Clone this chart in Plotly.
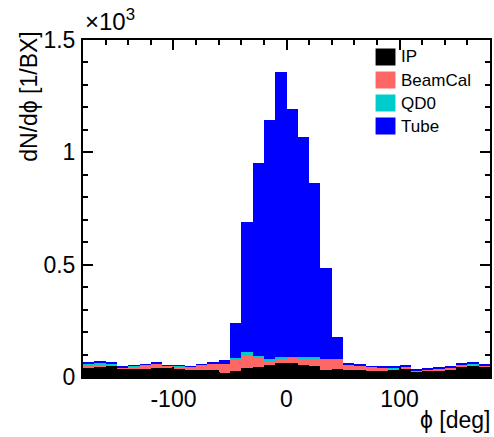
import numpy as np
import plotly.graph_objects as go

# phi binning: 36 bins of 10 degrees from -180 to 180
bin_edges = list(range(-180, 181, 10))
bin_centers = [(a + b) / 2 for a, b in zip(bin_edges[:-1], bin_edges[1:])]

# per-source hit counts per bin [1/BX]
ip = [43, 45, 50, 37, 37, 37, 40, 40, 34, 30, 30, 30,
      19, 27, 42, 46, 54, 61, 61, 54, 47, 30, 35, 30,
      30, 27, 25, 30, 40, 25, 25, 30, 30, 45, 49, 45]
beamcal = [6, 7, 3, 5, 11, 18, 22, 9, 14, 15, 24, 28,
           39, 53, 56, 37, 19, 22, 27, 30, 34, 47, 42, 22,
           22, 18, 17, 10, 7, 5, 9, 7, 12, 7, 6, 4]
qd0 = [13, 12, 3, 1, 1, 0, 0, 1, 1, 0, 0, 1,
       1, 6, 12, 11, 6, 5, 3, 6, 8, 3, 2, 1,
       1, 0, 1, 1, 0, 1, 1, 1, 1, 4, 5, 3]
tube = [5, 7, 9, 3, 3, 1, 1, 2, 3, 2, 2, 8,
        18, 154, 578, 858, 1064, 1270, 1104, 980, 773, 407, 100, 9,
        3, 3, 3, 4, 3, 3, 5, 4, 2, 4, 7, 8]

series_names = ["IP", "BeamCal", "QD0", "Tube"]
series_values = [ip, beamcal, qd0, tube]
series_colors = ["#000000", "#ff6666", "#00cccc", "#0000ff"]

y_tick_vals = [0, 500, 1000, 1500]
y_tick_text = ["0", "0.5", "1", "1.5"]
x_tick_vals = [-100, 0, 100]
x_tick_text = ["-100", "0", "100"]

W, H = 494, 437
ML, MR, MT, MB = 83, 2, 40, 60
PW, PH = W - ML - MR, H - MT - MB

FONT = "Liberation Sans, Arial, Helvetica, sans-serif"

fig = go.Figure()
for name, vals, col in zip(series_names, series_values, series_colors):
    fig.add_trace(go.Bar(
        x=bin_centers, y=vals, width=10, name=name,
        marker=dict(color=col, line=dict(width=0)),
        showlegend=False,
    ))


def px_x(px):
    return (px - ML) / PW


def px_y(py):
    return (H - MB - py) / PH


# hand-placed legend box in the upper right corner
shapes = []
annotations = []
for i, (name, col) in enumerate(zip(series_names, series_colors)):
    yc = 57 + i * 23
    shapes.append(dict(type="rect", xref="paper", yref="paper",
                       x0=px_x(377), x1=px_x(397),
                       y0=px_y(yc + 8.5), y1=px_y(yc - 8.5),
                       fillcolor=col, line=dict(width=0)))
    annotations.append(dict(text=name, xref="paper", yref="paper",
                            x=px_x(401), y=px_y(yc), xanchor="left",
                            yanchor="middle", showarrow=False,
                            font=dict(family=FONT, size=17, color="black")))

# axis titles, right-aligned as in ROOT style
annotations.append(dict(text="dN/dϕ [1/BX]", xref="paper", yref="paper",
                        x=px_x(28), y=px_y(29), xanchor="center", yanchor="top",
                        textangle=-90, showarrow=False,
                        font=dict(family=FONT, size=23, color="black")))
annotations.append(dict(text="ϕ [deg]", xref="paper", yref="paper",
                        x=px_x(494), y=px_y(420), xanchor="right", yanchor="middle",
                        showarrow=False,
                        font=dict(family=FONT, size=23, color="black")))
annotations.append(dict(text="×10<sup>3</sup>", xref="paper", yref="paper",
                        x=0.0, y=px_y(37), xanchor="left", yanchor="bottom",
                        showarrow=False,
                        font=dict(family=FONT, size=24, color="black")))

fig.update_layout(
    width=W, height=H,
    margin=dict(l=ML, r=MR, t=MT, b=MB, pad=0),
    paper_bgcolor="white", plot_bgcolor="white",
    barmode="stack", bargap=0,
    font=dict(family=FONT, size=23, color="black"),
    shapes=shapes, annotations=annotations,
)
fig.update_xaxes(
    range=[-180, 180], showgrid=False, zeroline=False,
    showline=True, linecolor="black", linewidth=2, mirror="ticks",
    ticks="inside", ticklen=10, tickwidth=1.5, tickcolor="black",
    tickvals=x_tick_vals, ticktext=x_tick_text,
    tickfont=dict(family=FONT, size=23, color="black"),
    minor=dict(ticks="inside", ticklen=5, tickwidth=1.5, tickcolor="black",
               dtick=20, tick0=0, showgrid=False),
)
fig.update_yaxes(
    range=[0, 1500], showgrid=False, zeroline=False,
    showline=True, linecolor="black", linewidth=2, mirror="ticks",
    ticks="inside", ticklen=10, tickwidth=1.5, tickcolor="black",
    tickvals=y_tick_vals, ticktext=y_tick_text,
    tickfont=dict(family=FONT, size=23, color="black"),
    ticklabelstandoff=1,
    minor=dict(ticks="inside", ticklen=5, tickwidth=1.5, tickcolor="black",
               dtick=100, tick0=0, showgrid=False),
)

fig.write_html("out.html")
